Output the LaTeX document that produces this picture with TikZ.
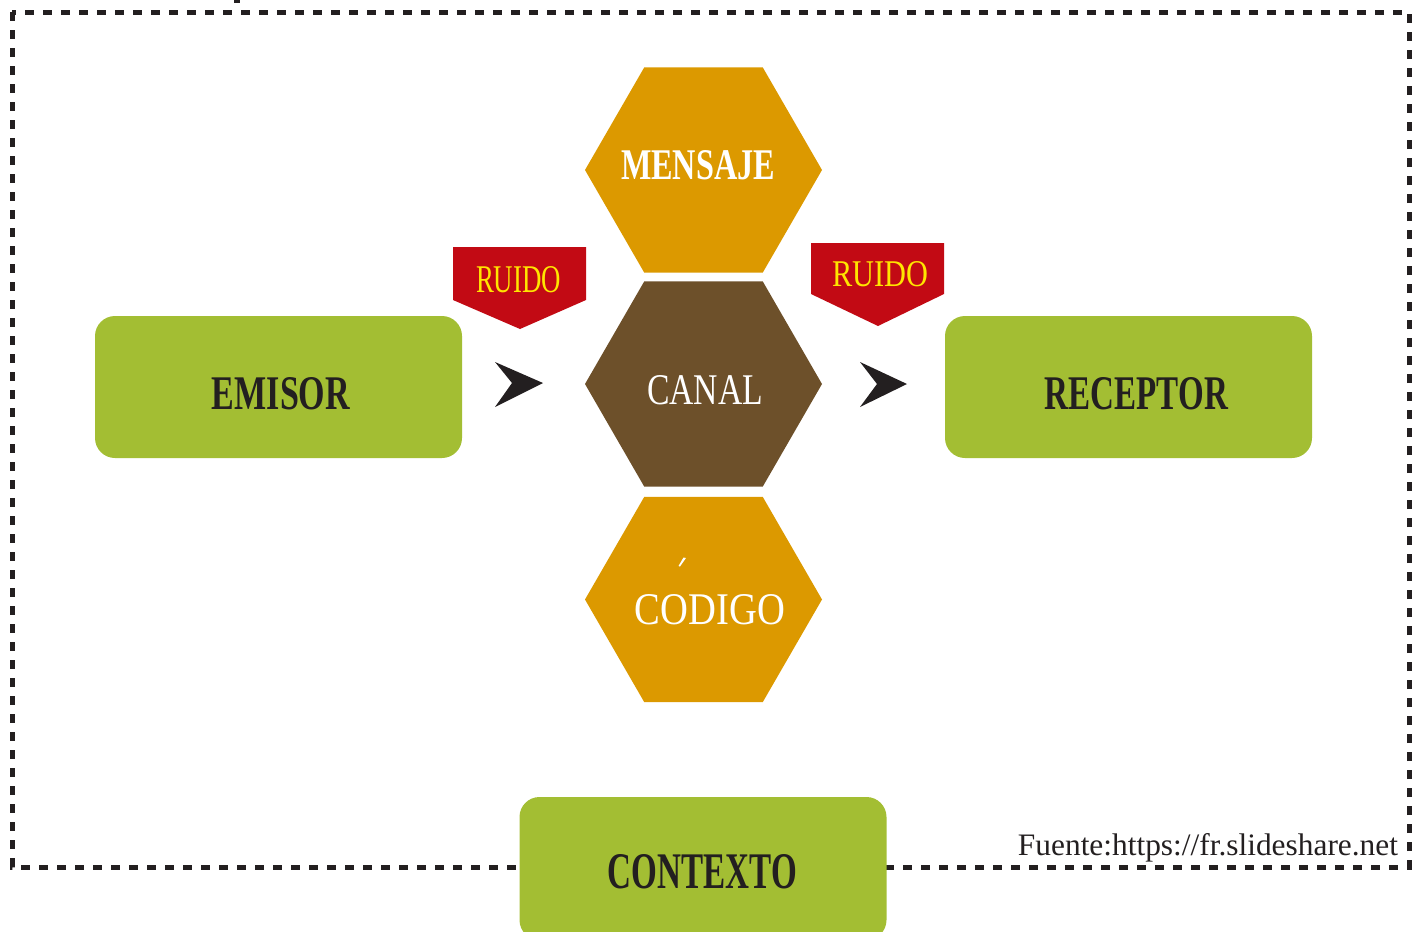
\documentclass[tikz,border=0pt]{standalone}
\usepackage{fontspec}
\setmainfont{Liberation Serif}
\usetikzlibrary{shapes.geometric}
\definecolor{grn}{HTML}{A3BE33}
\definecolor{org}{HTML}{DC9900}
\definecolor{brn}{HTML}{6D502A}
\definecolor{rd}{HTML}{C20A14}
\definecolor{ylw}{HTML}{FFE500}
\definecolor{dark}{HTML}{231F20}
\begin{document}
\begin{tikzpicture}[x=0.5pt,y=-0.5pt,
  hexa/.style={regular polygon, regular polygon sides=6, minimum size=118.5pt, inner sep=0pt, outer sep=0pt},
  gbox/.style={rectangle, rounded corners=10pt, fill=grn, minimum width=183.5pt, minimum height=71pt, inner sep=0pt, outer sep=0pt},
  lbl/.style={inner sep=0pt, outer sep=0pt},
  arrowshape/.style={fill=dark},
  ruido/.style={fill=rd}]
\useasboundingbox (0,0) rectangle (1421,932);
\clip (0,0) rectangle (1421,932);
% dashed frame
\draw[dark, line width=2.5pt, dash pattern=on 4.5pt off 4.5pt] (12,12) rectangle (1409,867);
\fill[dark] (234,0) rectangle (240,3);
% green boxes
\node[gbox] (emisor) at (278.5,387) {};
\node[gbox] (receptor) at (1128.5,387) {};
\node[gbox, minimum height=71.5pt] (contexto) at (703,868.5) {};
\node[lbl, text=dark] (emisorT) at (281,394) {\resizebox{69pt}{16pt}{\bfseries EMISOR}};
\node[lbl, text=dark] (receptorT) at (1136.5,394) {\resizebox{91.5pt}{16pt}{\bfseries RECEPTOR}};
\node[lbl, text=dark] (contextoT) at (702.5,872) {\resizebox{94.5pt}{17pt}{\bfseries CONTEXTO}};
% hexagons
\node[hexa, fill=org] (mensaje) at (703.5,170) {};
\node[hexa, fill=brn] (canal) at (703.5,384) {};
\node[hexa, fill=org] (codigo) at (703.5,599.5) {};
\node[lbl, text=white] (mensajeT) at (698,165) {\resizebox{77pt}{14.5pt}{\bfseries MENSAJE}};
\node[lbl, text=white] (canalT) at (705,390.5) {\resizebox{58pt}{14.5pt}{CANAL}};
\node[lbl, text=white] (codigoT) at (710,610) {\resizebox{75pt}{15pt}{CODIGO}};
% stray accent mark
\fill[white] (678.5,566) -- (683.5,557.5) -- (686,558) -- (680,566.5) -- cycle;
% ruido tags
\fill[ruido] (453,247) -- (586,247) -- (586,300) -- (520,329) -- (453,300) -- cycle;
\fill[ruido] (811,243) -- (944,243) -- (944,294) -- (878,326) -- (811,294) -- cycle;
\node[lbl, text=ylw] (ruido1) at (518.5,280) {\resizebox{42.5pt}{13pt}{RUIDO}};
\node[lbl, text=ylw] (ruido2) at (880,274.5) {\resizebox{48pt}{12.5pt}{RUIDO}};
% arrows
\fill[arrowshape] (543,383) -- (495,362) -- (512,383) -- (495,407) -- cycle;
\fill[arrowshape] (907,384) -- (860,362) -- (877,384) -- (860,407) -- cycle;
% source
\node[lbl, text=dark] (fuente) at (1208,848) {\resizebox{190pt}{11pt}{Fuente:https://fr.slideshare.net}};
\end{tikzpicture}
\end{document}
